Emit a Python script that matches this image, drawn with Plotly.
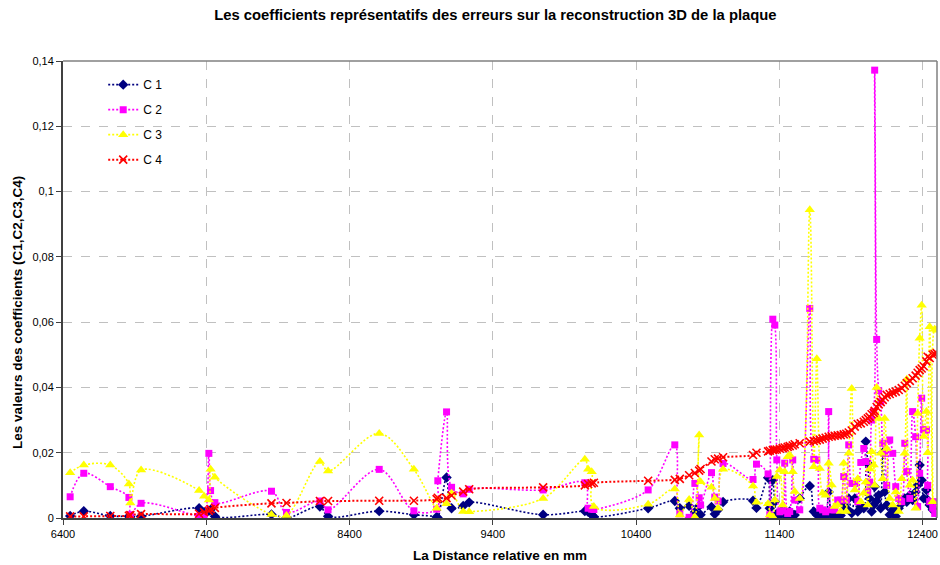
import plotly.graph_objects as go

# Distance relative (mm) of each measured section, sorted
distance_mm = [
    6450, 6545, 6730, 6860, 6870, 6945,
    7350, 7385, 7418, 7430, 7460, 7855, 7960,
    8193, 8250, 8607, 8849, 9008, 9016, 9077, 9112, 9193, 9235,
    9751, 10042, 10065, 10090, 10105,
    10484, 10670, 10705, 10770, 10810, 10840, 10850, 10926, 10949, 10972, 11007,
    11216, 11240, 11321,
    11333, 11354, 11368, 11382, 11403, 11423, 11437, 11458, 11472, 11493, 11507,
    11542, 11612, 11640, 11661, 11682, 11702, 11723, 11744, 11765, 11786,
    11807, 11828, 11849, 11867, 11884, 11905, 11926, 11947, 11968, 11989,
    12003, 12017, 12030, 12044, 12058, 12065, 12079, 12093, 12107, 12121,
    12135, 12149, 12170, 12191, 12212, 12233, 12254, 12275, 12289, 12310,
    12330, 12351, 12365, 12379, 12393, 12407, 12426, 12435, 12449, 12470, 12484, 12498,
]

c1 = [
    0.0006, 0.0021, 0.0006, 0.0005, 0.0004, 0.0005,
    0.0030, 0.0018, 0.0022, 0.0025, 0.0005, 0.0011, 0.0000,
    0.0035, 0.0005, 0.0021, 0.0010, 0.0003, 0.0000, 0.0124, 0.0030, 0.0037, 0.0048,
    0.0010, 0.0021, 0.0019, 0.0010, 0.0004,
    0.0030, 0.0052, 0.0030, 0.0037, 0.0018, 0.0037, 0.0010, 0.0034, 0.0012, 0.0025, 0.0049,
    0.0053, 0.0031, 0.0123,
    0.0030, 0.0116, 0.0050, 0.0012, 0.0008, 0.0025, 0.0010, 0.0005, 0.0020, 0.0005, 0.0009,
    0.0060, 0.0098, 0.0020, 0.0010, 0.0005, 0.0009, 0.0005, 0.0080, 0.0009, 0.0005,
    0.0010, 0.0008, 0.0040, 0.0030, 0.0060, 0.0015, 0.0060, 0.0020, 0.0035, 0.0030,
    0.0234, 0.0167, 0.0060, 0.0020, 0.0040, 0.0096, 0.0052, 0.0070, 0.0030, 0.0200,
    0.0080, 0.0040, 0.0010, 0.0025, 0.0005, 0.0030, 0.0045, 0.0060, 0.0050, 0.0070,
    0.0055, 0.0080, 0.0100, 0.0162, 0.0116, 0.0060, 0.0086, 0.0055, 0.0040, 0.0025, 0.0025, 0.0015,
]

c2 = [
    0.0065, 0.0137, 0.0096, 0.0063, 0.0010, 0.0045,
    0.0005, 0.0005, 0.0198, 0.0084, 0.0047, 0.0082, 0.0017,
    0.0052, 0.0025, 0.0149, 0.0022, 0.0027, 0.0114, 0.0325, 0.0094, 0.0074, 0.0088,
    0.0086, 0.0108, 0.0030, 0.0027, 0.0026,
    0.0086, 0.0224, 0.0013, 0.0002, 0.0106, 0.0062, 0.0040, 0.0139, 0.0064, 0.0052, 0.0167,
    0.0118, 0.0165, 0.0135,
    0.0010, 0.0609, 0.0591, 0.0178, 0.0019, 0.0022, 0.0168, 0.0014, 0.0020, 0.0178, 0.0055,
    0.0025, 0.0642, 0.0180, 0.0178, 0.0030, 0.0025, 0.0019, 0.0326, 0.0025, 0.0025,
    0.0055, 0.0055, 0.0127, 0.0055, 0.0224, 0.0106, 0.0106, 0.0050, 0.0170, 0.0213,
    0.0173, 0.0080, 0.0110, 0.0300, 0.0326, 0.1372, 0.0547, 0.0390, 0.0356, 0.0229,
    0.0198, 0.0100, 0.0239, 0.0198, 0.0096, 0.0060, 0.0050, 0.0229, 0.0142, 0.0060,
    0.0326, 0.0249, 0.0035, 0.0137, 0.0367, 0.0270, 0.0270, 0.0100, 0.0050, 0.0030, 0.0014, 0.0050,
]

c3 = [
    0.0139, 0.0162, 0.0162, 0.0104, 0.0046, 0.0147,
    0.0084, 0.0067, 0.0055, 0.0149, 0.0125, 0.0011, 0.0008,
    0.0173, 0.0144, 0.0259, 0.0149, 0.0030, 0.0055, 0.0044, 0.0076, 0.0020, 0.0019,
    0.0060, 0.0180, 0.0149, 0.0142, 0.0035,
    0.0042, 0.0089, 0.0009, 0.0057, 0.0003, 0.0254, 0.0111, 0.0094, 0.0060, 0.0030, 0.0149,
    0.0098, 0.0048, 0.0044,
    0.0009, 0.0004, 0.0055, 0.0127, 0.0147, 0.0040, 0.0142, 0.0188, 0.0193, 0.0142, 0.0081,
    0.0060, 0.0944, 0.0157, 0.0488, 0.0152, 0.0076, 0.0070, 0.0168, 0.0101, 0.0035,
    0.0040, 0.0020, 0.0168, 0.0020, 0.0198, 0.0397, 0.0086, 0.0120, 0.0050, 0.0076,
    0.0110, 0.0040, 0.0150, 0.0203, 0.0162, 0.0100, 0.0400, 0.0305, 0.0198, 0.0120,
    0.0305, 0.0213, 0.0060, 0.0040, 0.0080, 0.0020, 0.0120, 0.0198, 0.0425, 0.0100,
    0.0116, 0.0030, 0.0320, 0.0551, 0.0652, 0.0250, 0.0326, 0.0200, 0.0586, 0.0050, 0.0578, 0.0575,
]

c4 = [
    0.0005, 0.0005, 0.0006, 0.0007, 0.0009, 0.0012,
    0.0013, 0.0018, 0.0022, 0.0027, 0.0031, 0.0045, 0.0046,
    0.0052, 0.0052, 0.0053, 0.0053, 0.0058, 0.0062, 0.0061, 0.0069, 0.0081, 0.0088,
    0.0094, 0.0100, 0.0104, 0.0106, 0.0108,
    0.0114, 0.0117, 0.0120, 0.0131, 0.0138, 0.0145, 0.0150, 0.0173, 0.0180, 0.0182, 0.0186,
    0.0193, 0.0200, 0.0204,
    0.0206, 0.0208, 0.0209, 0.0210, 0.0212, 0.0214, 0.0216, 0.0218, 0.0220, 0.0222, 0.0226,
    0.0229, 0.0234, 0.0236, 0.0238, 0.0240, 0.0243, 0.0246, 0.0249, 0.0250, 0.0252,
    0.0253, 0.0254, 0.0256, 0.0258, 0.0262, 0.0268, 0.0280, 0.0288, 0.0290, 0.0295,
    0.0300, 0.0305, 0.0310, 0.0318, 0.0322, 0.0328, 0.0340, 0.0348, 0.0355, 0.0362,
    0.0370, 0.0377, 0.0380, 0.0384, 0.0387, 0.0392, 0.0398, 0.0405, 0.0413, 0.0420,
    0.0428, 0.0436, 0.0445, 0.0453, 0.0458, 0.0465, 0.0480, 0.0494, 0.0490, 0.0500, 0.0502, 0.0505,
]

x_ticks = [6400, 7400, 8400, 9400, 10400, 11400, 12400]
x_tick_labels = ["6400", "7400", "8400", "9400", "10400", "11400", "12400"]
y_ticks = [0, 0.02, 0.04, 0.06, 0.08, 0.10, 0.12, 0.14]
y_tick_labels = ["0", "0,02", "0,04", "0,06", "0,08", "0,1", "0,12", "0,14"]

FONT = "Liberation Sans, Arial, sans-serif"

series = [
    ("C 1", c1, "#000080", "diamond", 8),
    ("C 2", c2, "#FF00FF", "square", 7),
    ("C 3", c3, "#FFFF00", "triangle-up", 9),
    ("C 4", c4, "#FF0000", "x-thin", 8),
]

fig = go.Figure()
for i, (name, vals, color, symbol, size) in enumerate(series):
    marker = dict(symbol=symbol, size=size, color=color)
    if symbol == "x-thin":
        marker["line"] = dict(color=color, width=1.6)
    else:
        marker["line"] = dict(width=0)
    fig.add_trace(go.Scatter(
        x=distance_mm, y=vals, name=name, mode="lines+markers",
        line=dict(color=color, width=2 if i == 3 else 1.6, dash="2px,2px",
                  shape="spline", smoothing=1.0),
        marker=marker, legendgroup=f"g{i}",
    ))

fig.update_layout(
    width=940, height=565,
    margin=dict(l=63, r=3, t=61, b=47),
    paper_bgcolor="white", plot_bgcolor="white",
    font=dict(family=FONT, size=11, color="black"),
    title=dict(
        text="Les coefficients représentatifs des erreurs sur la reconstruction 3D de la plaque",
        x=0.527, xanchor="center", y=0.973, yanchor="middle",
        font=dict(family=FONT, size=14.8, color="black", weight="bold"),
    ),
    showlegend=True,
    legend=dict(
        x=0.046, y=0.98, xanchor="left", yanchor="top",
        bgcolor="rgba(255,255,255,0)", borderwidth=0,
        font=dict(family=FONT, size=12, color="black"),
        tracegroupgap=6,
    ),
    xaxis=dict(
        range=[6400, 12500], tickvals=x_ticks, ticktext=x_tick_labels,
        showgrid=True, gridcolor="#C0C0C0", griddash="dash", gridwidth=1,
        showline=True, linecolor="#404040", linewidth=2,
        ticks="outside", ticklen=5, tickcolor="#404040", tickwidth=1,
        zeroline=False,
        title=dict(text="La Distance relative en mm", standoff=11,
                   font=dict(family=FONT, size=13.5, color="black", weight="bold")),
    ),
    yaxis=dict(
        range=[0, 0.14], tickvals=y_ticks, ticktext=y_tick_labels,
        showgrid=True, gridcolor="#C0C0C0", griddash="dash", gridwidth=1,
        showline=True, linecolor="#404040", linewidth=2,
        ticks="outside", ticklen=5, tickcolor="#404040", tickwidth=1,
        zeroline=False,
    ),
    annotations=[dict(
        text="Les valeurs des coefficients (C1,C2,C3,C4)",
        xref="paper", yref="paper", x=-0.052, y=0.45,
        xanchor="center", yanchor="middle", textangle=-90, showarrow=False,
        font=dict(family=FONT, size=13.5, color="black", weight="bold"),
    )],
)

# grey frame closing the plot area on the top and right
fig.add_shape(type="line", xref="paper", yref="paper", x0=0, x1=1, y0=1, y1=1,
              line=dict(color="#808080", width=1.5), layer="above")
fig.add_shape(type="line", xref="paper", yref="paper", x0=1, x1=1, y0=0, y1=1,
              line=dict(color="#808080", width=1.5), layer="above")

fig.write_html("out.html")
